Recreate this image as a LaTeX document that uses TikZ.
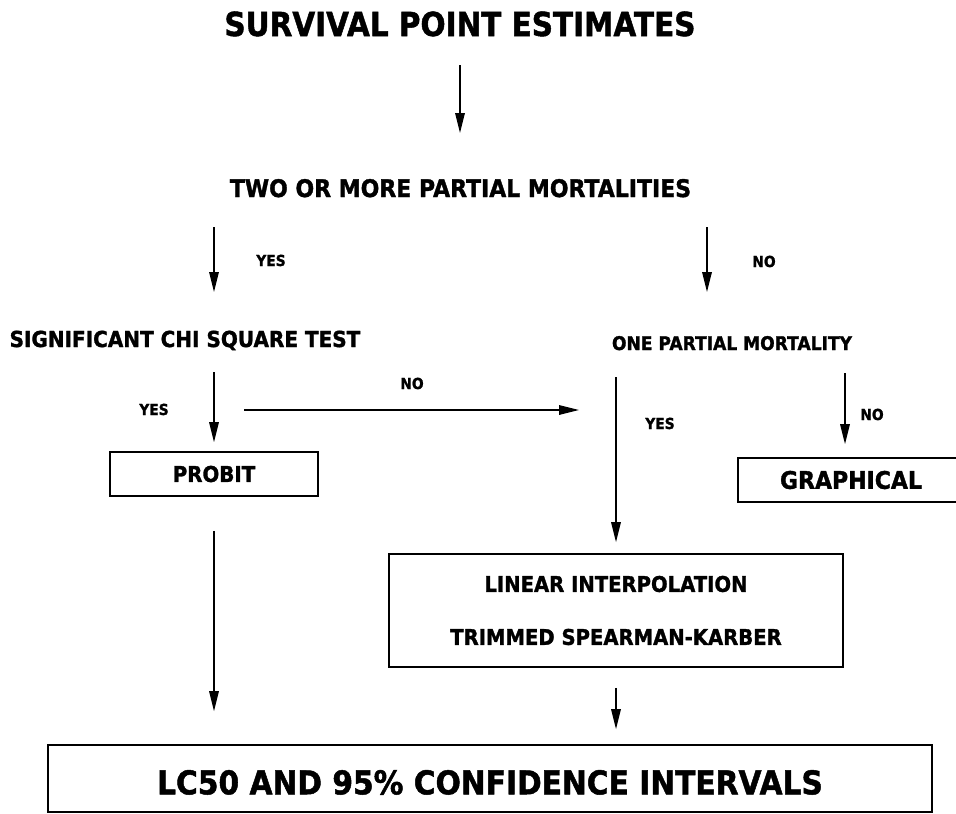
\documentclass[tikz,border=0pt]{standalone}
\usepackage{fontspec}
\setmainfont{DejaVu Sans}[BoldFeatures={FakeBold=1.5}]
\usetikzlibrary{arrows.meta}
\newcommand{\fs}[1]{\fontsize{#1}{#1}\selectfont\bfseries}
\newcommand{\tall}[2][1.1]{\scalebox{1}[#1]{#2}}
\begin{document}
\begin{tikzpicture}[x=1pt,y=-1pt,
  arr/.style={line width=1.7pt,-{Triangle[length=20pt,width=9.5pt]}},
  txt/.style={inner sep=0pt,anchor=base},
  lbl/.style={txt,font=\fs{13.8}},
  boxed/.style={draw,line width=1.6pt,inner sep=0pt,align=center}]
\fill[white] (0,0) rectangle (956,814);
\useasboundingbox (0,0) rectangle (956,814);

% texts
\node[txt,font=\fs{29.5}] (title) at (460,36) {\tall[1.12]{SURVIVAL POINT ESTIMATES}};
\node[txt,font=\fs{22}] (two) at (460.5,197) {\tall{TWO OR MORE PARTIAL MORTALITIES}};
\node[txt,font=\fs{20}] (sig) at (185,347) {\tall{SIGNIFICANT CHI SQUARE TEST}};
\node[txt,font=\fs{17.1}] (one) at (732,350) {\tall{ONE PARTIAL MORTALITY}};

% boxes
\node[boxed,minimum width=208pt,minimum height=44pt,font=\fs{19.8}] (probit) at (214,474) {\tall{PROBIT}};
\node[boxed,minimum width=226pt,minimum height=44pt,font=\fs{22}] (graph) at (851,480) {\tall{GRAPHICAL}};
\node[boxed,minimum width=454pt,minimum height=113pt,font=\fontsize{19.6}{53}\selectfont\bfseries] (lin) at (616,610.5) {\tall{LINEAR INTERPOLATION}\\\tall{TRIMMED SPEARMAN-KARBER}};
\node[boxed,minimum width=884pt,minimum height=67pt,font=\fs{29.7},text height=31.6pt,text depth=0pt] (lc) at (490,778.5) {\tall{LC50 AND 95\% CONFIDENCE INTERVALS}};

% labels
\node[lbl] (yes1) at (271,266) {\tall{YES}};
\node[lbl] (no1) at (764,267) {\tall{NO}};
\node[lbl] (yes2) at (154,415) {\tall{YES}};
\node[lbl] (no2) at (412,389) {\tall{NO}};
\node[lbl] (yes3) at (660,429) {\tall{YES}};
\node[lbl] (no3) at (872,420) {\tall{NO}};

% connectors
\draw[arr] ([yshift=-29pt]title.base) -- ([yshift=64pt]two.base -| title.base);
\draw[arr] ([yshift=-30pt]two.base -| probit.north) -- ([yshift=55pt]sig.base -| probit.north);
\draw[arr] ([xshift=246.5pt,yshift=-30pt]two.base) -- ([xshift=246.5pt,yshift=-95pt]two.base);
\draw[arr] ([yshift=-25pt]sig.base -| probit.north) -- ([yshift=9pt]probit.north);
\draw[arr] ([xshift=30pt,yshift=-63pt]sig.base -| probit.north) -- ([xshift=579pt,yshift=-63pt]sig.base -| 0,0);
\draw[arr] ([yshift=-27pt]one.base -| lin.north) -- ([yshift=11pt]lin.north);
\draw[arr] ([xshift=-6pt,yshift=-23pt]graph.north |- one.base) -- ([xshift=-6pt,yshift=13pt]graph.north);
\draw[arr] ([yshift=-34pt]probit.south) -- ([yshift=33pt]lc.north -| probit.south);
\draw[arr] ([yshift=-20pt]lin.south) -- ([yshift=15pt]lc.north -| lin.south);
\end{tikzpicture}
\end{document}
